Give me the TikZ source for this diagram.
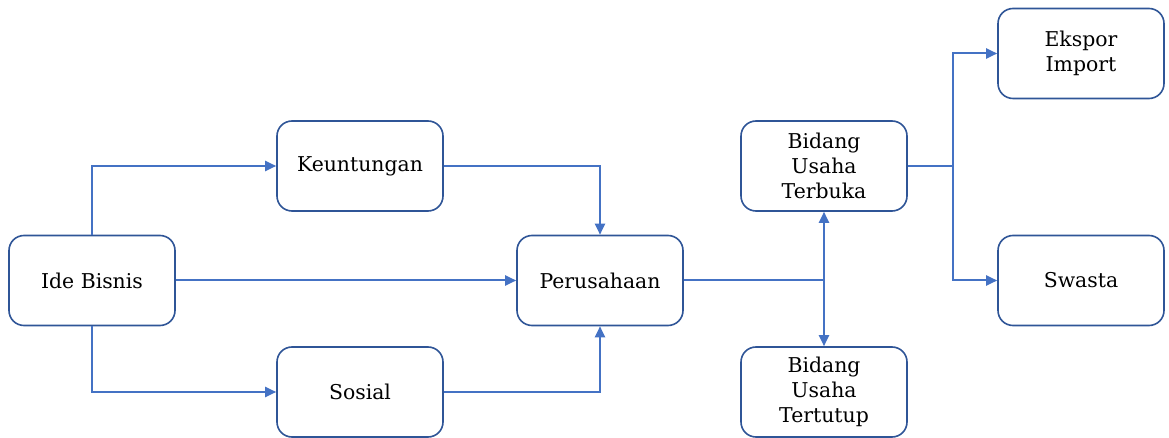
\documentclass[tikz,border=0pt]{standalone}
\usepackage{fontspec}
\setmainfont{DejaVu Serif}
\usetikzlibrary{arrows.meta}
\definecolor{linkblue}{HTML}{4472C4}
\definecolor{boxblue}{HTML}{2F5597}
\begin{document}
\begin{tikzpicture}[x=0.5pt,y=-0.5pt,
  box/.style={draw=boxblue,line width=0.8pt,rounded corners=7.5pt,fill=white,
    minimum width=83pt,minimum height=45pt,align=center,inner sep=0pt,
    font=\fontsize{10.2}{12.4}\selectfont},
  link/.style={draw=linkblue,line width=1pt},
  arr/.style={link,-{Triangle[length=5.5pt,width=5pt]}}]
\useasboundingbox (0,0) rectangle (1169,438);
% boxes
\node[box] (ide) at (92,280.5) {Ide Bisnis};
\node[box] (keu) at (360,166) {Keuntungan};
\node[box] (sos) at (360,392) {Sosial};
\node[box] (per) at (600,280.5) {Perusahaan};
\node[box] (ter) at (824,166) {Bidang\\Usaha\\Terbuka};
\node[box] (tut) at (824,392) {Bidang\\Usaha\\Tertutup};
\node[box] (eks) at (1081,53.5) {Ekspor\\Import};
\node[box] (swa) at (1081,280.5) {Swasta};
% junction points
\coordinate (j1) at (per.east -| ter.south);
\coordinate (j2) at (953,166);
% connectors
\draw[arr] (ide.north) |- (keu.west);
\draw[arr] (ide.south) |- (sos.west);
\draw[arr] (ide.east) -- (per.west);
\draw[arr] (keu.east) -| (per.north);
\draw[arr] (sos.east) -| (per.south);
\draw[link] (per.east) -- (j1);
\draw[arr] (j1) -- (ter.south);
\draw[arr] (j1) -- (tut.north);
\draw[link] (ter.east) -- (j2);
\draw[arr] (j2) |- (eks.west);
\draw[arr] (j2) |- (swa.west);
\end{tikzpicture}
\end{document}
